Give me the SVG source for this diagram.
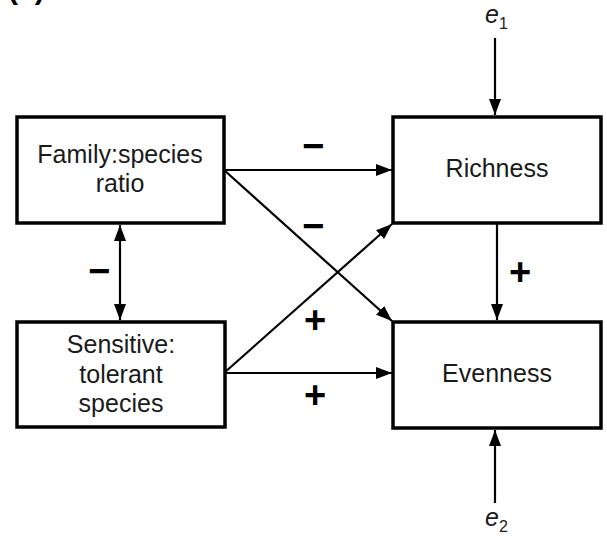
<svg xmlns="http://www.w3.org/2000/svg" width="607" height="545" viewBox="0 0 607 545">
<style>
.box{fill:#fff;stroke:#000;stroke-width:3.5}
.t{font-family:"Liberation Sans",Arial,sans-serif;font-size:25px;fill:#1a1a1a;text-anchor:middle}
.s{font-family:"Liberation Sans",Arial,sans-serif;font-size:38px;font-weight:bold;fill:#000;text-anchor:middle}
.c{stroke:#000;stroke-width:2.2;fill:none}
</style>
<defs>
<marker id="ah" viewBox="0 0 16 12" refX="16" refY="6" markerWidth="16" markerHeight="12" markerUnits="userSpaceOnUse" orient="auto-start-reverse">
<path d="M0,0 L16,6 L0,12 Z" fill="#000"/>
</marker>
</defs>
<text x="8" y="-1" style="font-family:'Liberation Sans',Arial,sans-serif;font-size:30px;font-weight:bold">(a)</text>
<g id="connectors">
<line class="c" x1="224" y1="170" x2="392" y2="170" marker-end="url(#ah)"/>
<line class="c" x1="224" y1="170" x2="392" y2="321" marker-end="url(#ah)"/>
<line class="c" x1="224" y1="373" x2="392" y2="224" marker-end="url(#ah)"/>
<line class="c" x1="224" y1="373" x2="392" y2="373" marker-end="url(#ah)"/>
<line class="c" x1="120" y1="225" x2="120" y2="320" marker-start="url(#ah)" marker-end="url(#ah)"/>
<line class="c" x1="497" y1="224" x2="497" y2="320" marker-end="url(#ah)"/>
<line class="c" x1="495" y1="38" x2="495" y2="115" marker-end="url(#ah)"/>
<line class="c" x1="495" y1="503" x2="495" y2="430" marker-end="url(#ah)"/>
<text class="s" x="313" y="159">−</text>
<text class="s" x="313" y="239">−</text>
<text class="s" x="315" y="333">+</text>
<text class="s" x="315" y="408">+</text>
<text class="s" x="99" y="284">−</text>
<text class="s" x="520" y="285">+</text>
</g>
<g id="family">
<rect class="box" x="17" y="117" width="207" height="106"/>
<text class="t" x="120" y="163">Family:species</text>
<text class="t" x="120" y="192">ratio</text>
</g>
<g id="sensitive">
<rect class="box" x="17" y="322" width="208" height="105"/>
<text class="t" x="121" y="353">Sensitive:</text>
<text class="t" x="121" y="383">tolerant</text>
<text class="t" x="121" y="412">species</text>
</g>
<g id="richness">
<rect class="box" x="393" y="117" width="208" height="106"/>
<text class="t" x="497" y="177">Richness</text>
</g>
<g id="evenness">
<rect class="box" x="393" y="322" width="208" height="106"/>
<text class="t" x="497" y="382">Evenness</text>
</g>
<g id="e1">
<text x="485" y="23" style="font-family:'Liberation Sans',Arial,sans-serif;font-size:25px;font-style:italic;fill:#1a1a1a">e<tspan font-size="16" font-style="normal" dy="6">1</tspan></text>
</g>
<g id="e2">
<text x="485" y="526" style="font-family:'Liberation Sans',Arial,sans-serif;font-size:25px;font-style:italic;fill:#1a1a1a">e<tspan font-size="16" font-style="normal" dy="6">2</tspan></text>
</g>
</svg>
